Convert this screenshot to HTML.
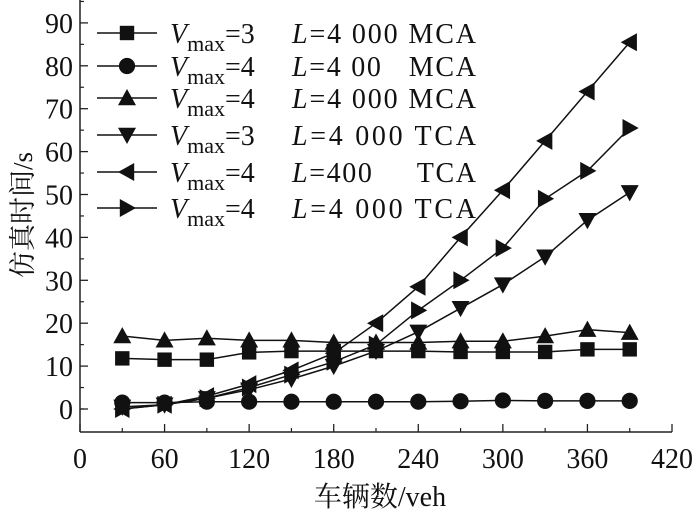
<!DOCTYPE html>
<html><head><meta charset="utf-8"><style>
body{margin:0;background:#fff}
svg text{font-family:"Liberation Serif","Noto Serif CJK SC",serif;fill:#111}
</style></head><body>
<svg id="c" width="700" height="520" viewBox="0 0 700 520" xmlns="http://www.w3.org/2000/svg">
<g id="axes"></g>
<g id="series"></g>
<g id="legend"></g>
<text transform="translate(32,215) rotate(-90)" text-anchor="middle" font-size="27">仿真时间/s</text>
<text x="380" y="506" text-anchor="middle" font-size="28">车辆数/veh</text>
</svg>
<script>
const xCats=[30,60,90,120,150,180,210,240,270,300,330,360,390];
const xTicks=[0,60,120,180,240,300,360,420];
const yTicks=[0,10,20,30,40,50,60,70,80,90];
const sSquare=[11.8,11.5,11.5,13.2,13.5,13.5,13.5,13.5,13.3,13.3,13.3,13.9,13.9];
const sCircle=[1.5,1.5,1.7,1.7,1.7,1.7,1.7,1.7,1.8,2,1.9,1.9,1.9];
const sUp=[17,16,16.5,16,16,15.5,15.5,15.5,15.8,15.8,17,18.5,17.8];
const sDown=[0.5,1,2.5,4.5,7,10,13.5,18,23.5,29,35.5,44,50.5];
const sLeft=[0,1,3,5.8,9,13,20,28.5,40,51,62.5,74,85.5];
const sRight=[0,1,2.5,5,8,11,15,23,30,37.5,49,55.5,65.5];
const legendV=["3","4","4","3","4","4"];
const legendL=["4 000 MCA","4 00\u00a0\u00a0\u00a0MCA","4 000 MCA","4 000 TCA","400\u00a0\u00a0\u00a0\u00a0\u00a0TCA","4 000 TCA"];

const NS="http://www.w3.org/2000/svg";
const X0=80,X1=672,Y0=409,PU=4.29,BOT=432;
const xs=v=>X0+(v/420)*(X1-X0);
const ys=v=>Y0-v*PU;
function mk(t,a,p){const e=document.createElementNS(NS,t);for(const k in a)e.setAttribute(k,a[k]);p.appendChild(e);return e;}
const ax=document.getElementById('axes');
const xl=mk('line',{x1:X0,y1:BOT,x2:X1,y2:BOT,stroke:'#222','stroke-width':1.5},ax);


const yl=mk('line',{x1:X0,y1:BOT,x2:X0,y2:0,stroke:'#222','stroke-width':1.5},ax);


xTicks.forEach((t,i)=>{
  const x=xs(t);
  mk('line',{x1:x,y1:BOT,x2:x,y2:BOT-8,stroke:'#222','stroke-width':1.3},ax);
  if(i<xTicks.length-1) mk('line',{x1:xs(t+30),y1:BOT,x2:xs(t+30),y2:BOT-4,stroke:'#222','stroke-width':1.2},ax);
  const tx=mk('text',{x:x,y:BOT+36,'text-anchor':'middle','font-size':28},ax);
  tx.textContent=t;
  
  
});
[-5].concat(yTicks).forEach(t=>{
  const y=ys(t);
  if(t>=0){
    mk('line',{x1:X0,y1:y,x2:X0+8,y2:y,stroke:'#222','stroke-width':1.3},ax);
    const tx=mk('text',{x:X0-7,y:y+10,'text-anchor':'end','font-size':28},ax);
    tx.textContent=t;
    
    
  }
  if(t+5<=95) mk('line',{x1:X0,y1:ys(t+5),x2:X0+4,y2:ys(t+5),stroke:'#222','stroke-width':1.2},ax);
});
function marker(type,x,y,p,s){
  s=s||9;
  if(type==='square') return mk('rect',{x:x-s*0.8,y:y-s*0.8,width:s*1.6,height:s*1.6,fill:'#111'},p);
  if(type==='circle') return mk('circle',{cx:x,cy:y,r:s*0.9,fill:'#111'},p);
  let pts;
  if(type==='up') pts=[[x,y-s],[x-s,y+s*0.8],[x+s,y+s*0.8]];
  if(type==='down') pts=[[x,y+s],[x-s,y-s*0.8],[x+s,y-s*0.8]];
  if(type==='left') pts=[[x-s,y],[x+s*0.8,y-s],[x+s*0.8,y+s]];
  if(type==='right') pts=[[x+s,y],[x-s*0.8,y-s],[x-s*0.8,y+s]];
  return mk('polygon',{points:pts.map(q=>q.join(',')).join(' '),fill:'#111'},p);
}
const sers=[[sSquare,'square'],[sCircle,'circle'],[sUp,'up'],[sDown,'down'],[sLeft,'left'],[sRight,'right']];
const sg=document.getElementById('series');
sers.forEach(([d,t])=>{
  const g=mk('g',{},sg);
  
  
  mk('polyline',{points:d.map((v,i)=>xs(xCats[i])+','+ys(v)).join(' '),fill:'none',stroke:'#111','stroke-width':1.5},g);
  d.forEach((v,i)=>{
    const m=marker(t,xs(xCats[i]),ys(v),g);
    
    
  });
});
const lg=document.getElementById('legend');
const rows=[33,66,98,135,172,208];
sers.forEach(([d,t],i)=>{
  const y=rows[i];
  const g=mk('g',{},lg);
  
  
  mk('line',{x1:97,y1:y,x2:157,y2:y,stroke:'#111','stroke-width':1.5},g);
  marker(t,127,y,g);
  const tx=mk('text',{x:170,y:y+10,'font-size':28},g);
  tx.innerHTML='<tspan font-style="italic">V</tspan><tspan font-size="22" dy="8">max</tspan><tspan dy="-8">='+legendV[i]+'</tspan>';
  const t2=mk('text',{x:292,y:y+10,'font-size':28,'textLength':184,'lengthAdjust':'spacing'},g);
  t2.innerHTML='<tspan font-style="italic">L</tspan>='+legendL[i];
});
</script>
</body></html>
